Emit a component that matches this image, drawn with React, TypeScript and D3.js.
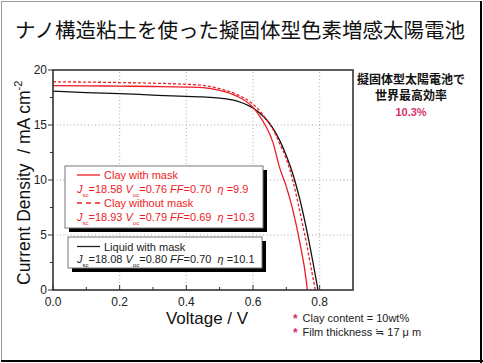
import React from "react";
import * as d3 from "d3";

// J-V data (V in volts, J in mA/cm2)
const clayMaskV = [0, 0.1, 0.2, 0.3, 0.4, 0.45, 0.5, 0.55, 0.6, 0.62, 0.64, 0.66, 0.68, 0.7, 0.72, 0.74, 0.76, 0.763];
const clayMaskJ = [18.58, 18.56, 18.53, 18.5, 18.45, 18.4, 18.15, 17.65, 16.6, 15.8, 14.8, 13.4, 11.1, 9.4, 7.2, 4.4, 0.8, 0];

const clayNoMaskV = [0, 0.1, 0.2, 0.3, 0.4, 0.45, 0.5, 0.55, 0.6, 0.62, 0.64, 0.66, 0.68, 0.7, 0.72, 0.74, 0.76, 0.78, 0.787];
const clayNoMaskJ = [18.93, 18.9, 18.86, 18.8, 18.7, 18.6, 18.3, 17.8, 16.9, 16.3, 15.5, 14.6, 13.3, 11.9, 9.9, 7.2, 4.3, 1.1, 0];

const liquidV = [0, 0.1, 0.2, 0.3, 0.4, 0.45, 0.5, 0.55, 0.6, 0.62, 0.64, 0.66, 0.68, 0.7, 0.72, 0.74, 0.76, 0.78, 0.795];
const liquidJ = [18.08, 17.95, 17.85, 17.72, 17.6, 17.55, 17.45, 17.2, 16.55, 16.1, 15.5, 14.7, 13.6, 12.2, 10.5, 8.3, 5.6, 2.5, 0];

const xTicks = [0, 0.2, 0.4, 0.6, 0.8];
const xMinor = [0.1, 0.3, 0.5, 0.7];
const yTicks = [0, 5, 10, 15, 20];
const yMinor = [2.5, 7.5, 12.5, 17.5];

const title = "ナノ構造粘土を使った擬固体型色素増感太陽電池";
const noteLines = ["擬固体型太陽電池で", "世界最高効率"];
const noteValue = "10.3%";
const footnotes = ["Clay content = 10wt%", "Film thickness ≒ 17 μ m"];

const RED = "#ee1c25";
const PINK = "#d6306e";
const SANS = "'Liberation Sans', Arial, sans-serif";
const JP = "'Noto Sans CJK JP', sans-serif";

const x = d3.scaleLinear().domain([0, 0.9]).range([53, 353]);
const y = d3.scaleLinear().domain([0, 20]).range([290, 70]);

const line = d3
  .line<[number, number]>()
  .x((d) => x(d[0]))
  .y((d) => y(d[1]))
  .curve(d3.curveMonotoneX);

const zip = (vs: number[], js: number[]) => vs.map((v, i) => [v, js[i]] as [number, number]);

function Params({ x0, yb, fill, jsc, voc, ff, eta }: any) {
  return (
    <text x={x0} y={yb} fontSize={11} fill={fill} fontFamily={SANS} style={{ whiteSpace: "pre" }}>
      <tspan fontStyle="italic">J</tspan>
      <tspan fontSize={6} dy={4}>sc</tspan>
      <tspan dy={-4}>{"=" + jsc + " "}</tspan>
      <tspan fontStyle="italic">V</tspan>
      <tspan fontSize={6} dy={4}>oc</tspan>
      <tspan dy={-4}>{"=" + voc + " "}</tspan>
      <tspan fontStyle="italic">FF</tspan>
      <tspan>{"=" + ff + "  "}</tspan>
      <tspan fontStyle="italic">η</tspan>
      <tspan>{" =" + eta}</tspan>
    </text>
  );
}

export default function App() {
  const [x0, x1] = x.range();
  const [y0, y1] = y.range();
  return (
    <svg width={483} height={363} style={{ position: "absolute", left: 0, top: 0, background: "#fff" }}>
      {/* outer frame */}
      <line x1={1.5} y1={1} x2={1.5} y2={362} stroke="#999" />
      <line x1={1} y1={1.5} x2={482} y2={1.5} stroke="#999" />
      <line x1={481} y1={1} x2={481} y2={363} stroke="#000" strokeWidth={2} />
      <line x1={1} y1={361} x2={483} y2={361} stroke="#000" strokeWidth={2} />

      <text x={15} y={38} fontSize={20.5} fontFamily={JP} fill="#111">{title}</text>

      <defs>
        <clipPath id="plot">
          <rect x={x0} y={y1} width={x1 - x0} height={y0 - y1} />
        </clipPath>
      </defs>

      {/* grid */}
      {xTicks.slice(1).map((t) => (
        <line key={"gx" + t} x1={x(t)} x2={x(t)} y1={y0} y2={y1} stroke="#aaa" strokeDasharray="1,2.5" />
      ))}
      {yTicks.slice(1, -1).map((t) => (
        <line key={"gy" + t} x1={x0} x2={x1} y1={y(t)} y2={y(t)} stroke="#aaa" strokeDasharray="1,2.5" />
      ))}

      {/* curves */}
      <g clipPath="url(#plot)" fill="none">
        <path d={line(zip(liquidV, liquidJ)) || ""} stroke="#111" strokeWidth={1.3} />
        <path d={line(zip(clayNoMaskV, clayNoMaskJ)) || ""} stroke={RED} strokeWidth={1.3} strokeDasharray="3,2" />
        <path d={line(zip(clayMaskV, clayMaskJ)) || ""} stroke={RED} strokeWidth={1.3} />
      </g>

      {/* frame + ticks */}
      <rect x={x0} y={y1} width={x1 - x0} height={y0 - y1} fill="none" stroke="#333" strokeWidth={1.6} />
      {xTicks.map((t) => (
        <g key={"xt" + t}>
          <line x1={x(t)} x2={x(t)} y1={y0} y2={y0 - 5} stroke="#333" />
          <text x={x(t)} y={306} fontSize={12} textAnchor="middle" fontFamily={SANS} fill="#222">{t.toFixed(1)}</text>
        </g>
      ))}
      {xMinor.map((t) => (
        <line key={"xm" + t} x1={x(t)} x2={x(t)} y1={y0} y2={y0 - 3} stroke="#333" />
      ))}
      {yTicks.map((t) => (
        <g key={"yt" + t}>
          <line x1={x0} x2={x0 - 5} y1={y(t)} y2={y(t)} stroke="#333" />
          <text x={47} y={y(t) + 4} fontSize={12} textAnchor="end" fontFamily={SANS} fill="#222">{t}</text>
        </g>
      ))}
      {yMinor.map((t) => (
        <line key={"ym" + t} x1={x0} x2={x0 - 3} y1={y(t)} y2={y(t)} stroke="#333" />
      ))}

      {/* axis titles */}
      <text x={207} y={324} fontSize={17} textAnchor="middle" fontFamily={SANS} fill="#111">Voltage / V</text>
      <text transform="translate(30,285) rotate(-90)" fontSize={17.5} fontFamily={SANS} fill="#111" style={{ whiteSpace: "pre" }}>
        Current Density  / mA cm<tspan fontSize={11} dy={-8}>-2</tspan>
      </text>

      {/* legend box 1 */}
      <rect x={69} y={170} width={198} height={62} fill="#000" />
      <rect x={65} y={166} width={198} height={62} fill="#fff" stroke="#777" />
      <line x1={77} x2={100} y1={175} y2={175} stroke={RED} strokeWidth={1.3} />
      <text x={104} y={179} fontSize={11} fill={RED} fontFamily={SANS}>Clay with mask</text>
      <Params x0={77} yb={193} fill={RED} jsc="18.58" voc="0.76" ff="0.70" eta="9.9" />
      <line x1={77} x2={100} y1={203} y2={203} stroke={RED} strokeWidth={1.3} strokeDasharray="5,4" />
      <text x={104} y={207} fontSize={11} fill={RED} fontFamily={SANS}>Clay without mask</text>
      <Params x0={77} yb={221} fill={RED} jsc="18.93" voc="0.79" ff="0.69" eta="10.3" />

      {/* legend box 2 */}
      <rect x={72} y={241} width={194} height={31} fill="#000" />
      <rect x={68} y={237} width={194} height={31} fill="#fff" stroke="#777" />
      <line x1={77} x2={100} y1={246.5} y2={246.5} stroke="#222" strokeWidth={1.3} />
      <text x={104} y={250.5} fontSize={11} fill="#222" fontFamily={SANS}>Liquid with mask</text>
      <Params x0={77} yb={262.5} fill="#222" jsc="18.08" voc="0.80" ff="0.70" eta="10.1" />

      {/* right note */}
      {noteLines.map((s, i) => (
        <text key={s} x={411} y={84 + i * 16} fontSize={12} fontWeight="bold" textAnchor="middle" fontFamily={JP} fill="#111">{s}</text>
      ))}
      <text x={411} y={116} fontSize={11} fontWeight="bold" textAnchor="middle" fontFamily={SANS} fill={PINK}>{noteValue}</text>

      {/* footnotes */}
      {footnotes.map((s, i) => (
        <g key={s}>
          <text x={293} y={323 + i * 14} fontSize={12} fontWeight="bold" fontFamily={SANS} fill={PINK}>*</text>
          <text x={302.5} y={322 + i * 14} fontSize={11} fontFamily={SANS} fill="#222">{s}</text>
        </g>
      ))}
    </svg>
  );
}
